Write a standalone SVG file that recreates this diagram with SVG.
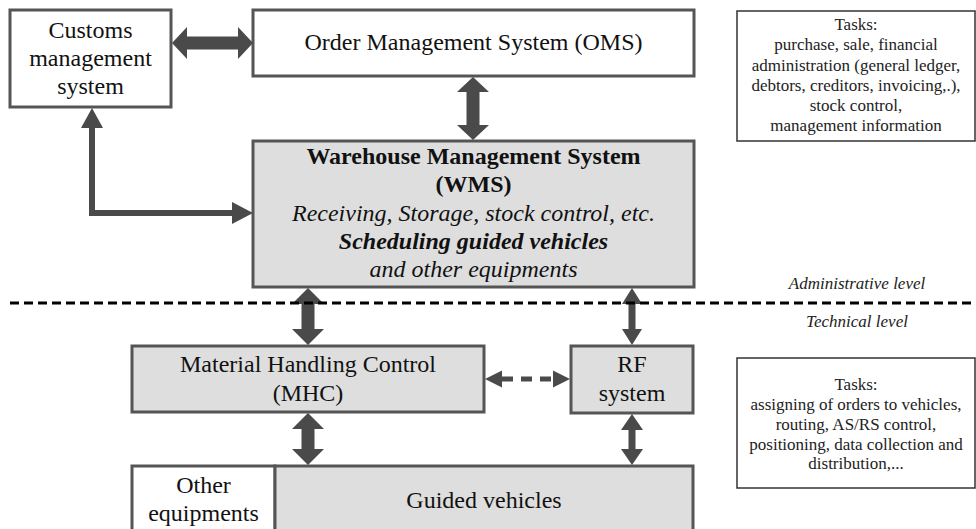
<svg xmlns="http://www.w3.org/2000/svg" width="976" height="529" viewBox="0 0 976 529">
<style>
text{font-family:"Liberation Serif","Times New Roman",Times,"Nimbus Roman","FreeSerif","Noto Serif",Tinos,"DejaVu Serif",serif;fill:#111;text-anchor:middle}
.big{font-size:24px}
.b{font-weight:bold}
.i{font-style:italic}
.task{font-size:17px;fill:#222}
.lvl{font-size:17px;font-style:italic;fill:#222}
.box{stroke:#555;stroke-width:3}
.white{fill:#fff}
.gray{fill:#dedede}
.tbox{fill:#fff;stroke:#333;stroke-width:1.5}
.arr{fill:#4a4a4a}
</style>
<rect width="976" height="529" fill="#fff"/>

<g id="customs">
<rect class="box white" x="10" y="10" width="161" height="97"/>
<text class="big" x="90.5" y="38">Customs</text>
<text class="big" x="90.5" y="66">management</text>
<text class="big" x="90.5" y="94">system</text>
</g>

<g id="oms">
<rect class="box white" x="253" y="10" width="441" height="66"/>
<text class="big" x="473.5" y="50">Order Management System (OMS)</text>
</g>

<g id="wms">
<rect class="box gray" x="253" y="141" width="441" height="146"/>
<text class="big b" x="473.5" y="164">Warehouse Management System</text>
<text class="big b" x="473.5" y="192">(WMS)</text>
<text class="big i" x="473.5" y="221">Receiving, Storage, stock control, etc.</text>
<text class="big b i" x="473.5" y="249">Scheduling guided vehicles</text>
<text class="big i" x="473.5" y="277">and other equipments</text>
</g>

<g id="mhc">
<rect class="box gray" x="132" y="346" width="352" height="66"/>
<text class="big" x="308" y="372">Material Handling Control</text>
<text class="big" x="308" y="401">(MHC)</text>
</g>

<g id="rf">
<rect class="box gray" x="571" y="346" width="122" height="67"/>
<text class="big" x="632" y="372">RF</text>
<text class="big" x="632" y="401">system</text>
</g>

<g id="other-equipments">
<rect class="box white" x="132" y="466" width="143" height="70"/>
<text class="big" x="203.5" y="493">Other</text>
<text class="big" x="203.5" y="521">equipments</text>
</g>

<g id="guided-vehicles">
<rect class="box gray" x="275" y="466" width="418" height="70"/>
<text class="big" x="484" y="508">Guided vehicles</text>
</g>

<g id="tasks-admin">
<rect class="tbox" x="737" y="11" width="238" height="130"/>
<text class="task" x="856" y="30">Tasks:</text>
<text class="task" x="856" y="50">purchase, sale, financial</text>
<text class="task" x="856" y="70.5">administration (general ledger,</text>
<text class="task" x="856" y="90.5">debtors, creditors, invoicing,.),</text>
<text class="task" x="856" y="110.5">stock control,</text>
<text class="task" x="856" y="130.5">management information</text>
</g>

<g id="tasks-tech">
<rect class="tbox" x="737" y="358" width="238" height="130"/>
<text class="task" x="856" y="390">Tasks:</text>
<text class="task" x="856" y="410">assigning of orders to vehicles,</text>
<text class="task" x="856" y="430">routing, AS/RS control,</text>
<text class="task" x="856" y="449.5">positioning, data collection and</text>
<text class="task" x="856" y="469">distribution,...</text>
</g>

<g id="connectors">
<polygon class="arr" points="172,43 187,27 187,36.5 238,36.5 238,27 253,43 238,59 238,49.5 187,49.5 187,59"/>
<polygon class="arr" points="473,77 489,92 479.5,92 479.5,125 489,125 473,140 457,125 466.5,125 466.5,92 457,92"/>
<polyline points="92,126 92,213 234,213" fill="none" stroke="#4a4a4a" stroke-width="6"/>
<polygon class="arr" points="92,108 103,128 81,128"/>
<polygon class="arr" points="253,213 232,202 232,224"/>
<polygon class="arr" points="308,288 324,304 314.5,304 314.5,329 324,329 308,345 292,329 301.5,329 301.5,304 292,304"/>
<polygon class="arr" points="308,413 324,429 314.5,429 314.5,449 324,449 308,465 292,449 301.5,449 301.5,429 292,429"/>
<polygon class="arr" points="632,288 642,304 635.5,304 635.5,329 642,329 632,345 622,329 628.5,329 628.5,304 622,304"/>
<polygon class="arr" points="632,414 643,430 635.5,430 635.5,449 643,449 632,465 621,449 628.5,449 628.5,430 621,430"/>
<line x1="502" y1="379" x2="553" y2="379" stroke="#4a4a4a" stroke-width="5" stroke-dasharray="11 8"/>
<polygon class="arr" points="485,379 502,370.5 502,387.5"/>
<polygon class="arr" points="570,379 553,370.5 553,387.5"/>
</g>

<g id="levels">
<text class="lvl" x="857" y="289">Administrative level</text>
<line x1="10" y1="303" x2="976" y2="303" stroke="#000" stroke-width="3" stroke-dasharray="9 5"/>
<text class="lvl" x="857" y="327">Technical level</text>
</g>
</svg>
